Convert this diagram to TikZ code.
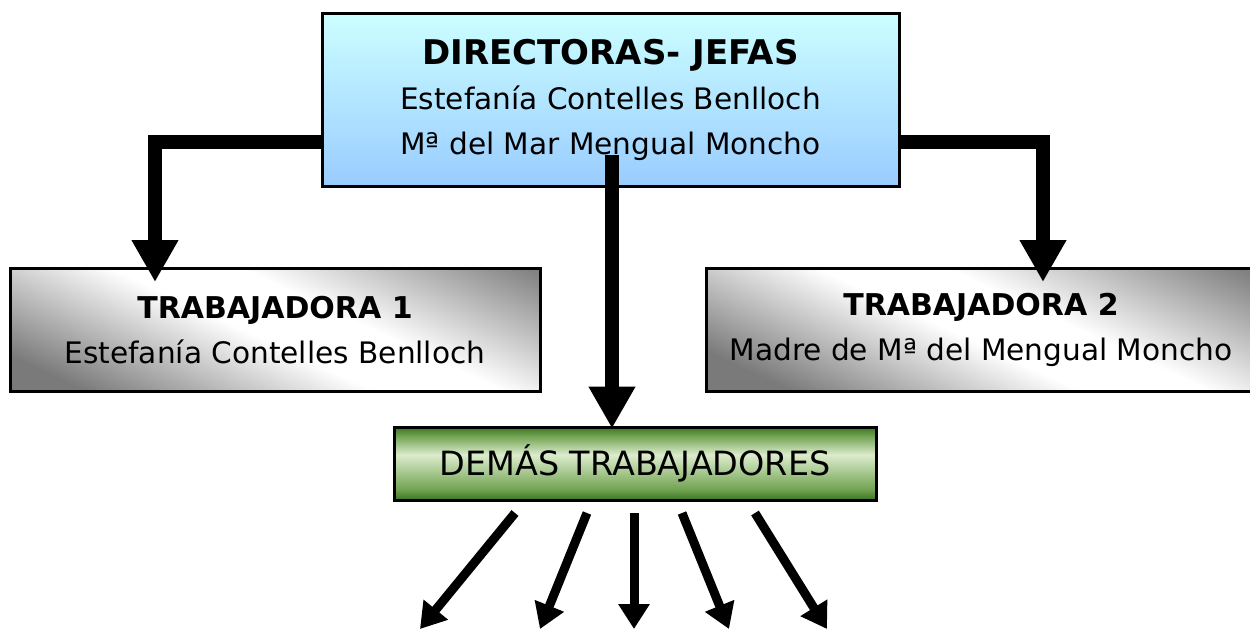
\documentclass[tikz,border=0pt]{standalone}
\usepackage{fontspec}
\setmainfont{DejaVu Sans}
\usetikzlibrary{arrows.meta,calc}
\definecolor{topA}{RGB}{204,255,255}
\definecolor{topB}{RGB}{153,204,255}
\definecolor{grayedge}{RGB}{122,122,122}
\definecolor{gdark}{RGB}{58,116,36}
\definecolor{gmid}{RGB}{112,162,80}
\definecolor{glight}{RGB}{220,236,205}
\pgfdeclareverticalshading{greenbar}{100bp}{color(0bp)=(gdark); color(25bp)=(gdark); color(32bp)=(gmid); color(56bp)=(glight); color(69bp)=(gmid); color(75bp)=(gdark); color(100bp)=(gdark)}
\pgfdeclareverticalshading{grayband}{100bp}{color(0bp)=(grayedge); color(39bp)=(grayedge); color(48bp)=(white); color(52bp)=(white); color(61.5bp)=(grayedge); color(100bp)=(grayedge)}
\tikzset{
  boxbase/.style={draw=black, line width=1.5pt, align=center, inner sep=0pt,
    font=\fontsize{14.8}{22.5}\selectfont},
  topbox/.style={boxbase, minimum width=288.5pt, minimum height=86.5pt,
    top color=topA, bottom color=topB},
  graybox/.style={boxbase, minimum width=265pt, minimum height=61.5pt,
    path picture={\shade[shading=grayband, shading angle=-25]
      ($(path picture bounding box.center)+(-153pt,-170pt)$) rectangle +(340pt,340pt);}},
  greenbox/.style={boxbase, minimum width=241pt, minimum height=36.5pt,
    shading=greenbar, font=\fontsize{16.7}{20}\selectfont},
  bigarrow/.style={line width=7pt, -{Triangle[width=22pt,length=21pt]}},
  smallarrow/.style={line width=4.5pt, -{Triangle[width=15pt,length=12.5pt]}}
}
\newcommand{\ttl}[2]{{\fontsize{#1}{22.5}\selectfont\bfseries #2}}
\begin{document}
\begin{tikzpicture}[x=0.5pt,y=-0.5pt]
\useasboundingbox (0,0) rectangle (1250,629);
% boxes
\node[topbox] (dir) at (610.5,99.5) {\ttl{17}{DIRECTORAS- JEFAS}\\ Estefanía Contelles Benlloch\\ Mª del Mar Mengual Moncho};
\node[graybox] (t1) at (275,330) {\ttl{15}{TRABAJADORA 1}\\ Estefanía Contelles Benlloch};
\node[graybox, minimum width=275pt] (t2) at (981,330) {\ttl{15}{TRABAJADORA 2}\\ Madre de Mª del Mengual Moncho};
\node[greenbox] (dem) at (635,463.5) {DEMÁS TRABAJADORES};
% elbow and center connectors
\coordinate (lk) at (155,142);
\coordinate (rk) at (1043,142);
\coordinate (ck) at (612,155);
\draw[bigarrow] (dir.west |- lk) -| ([yshift=-7.5pt]lk |- t1.north);
\draw[bigarrow] (dir.east |- rk) -| ([yshift=-7.5pt]rk |- t2.north);
\draw[bigarrow] (ck) -- ([yshift=-1.5pt]ck |- dem.north);
% bottom arrows
\coordinate (s1) at (515,513); \coordinate (e1) at (420,629);
\coordinate (s2) at (587,513); \coordinate (e2) at (540,629);
\coordinate (s3) at (634,513); \coordinate (e3) at (634,629);
\coordinate (s4) at (682,513); \coordinate (e4) at (729,629);
\coordinate (s5) at (755,513); \coordinate (e5) at (827,629);
\foreach \i in {1,...,5} \draw[smallarrow] (s\i) -- (e\i);
\end{tikzpicture}
\end{document}
